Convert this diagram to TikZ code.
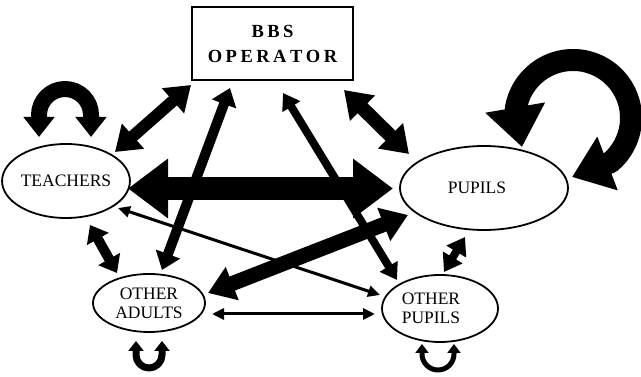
\documentclass[tikz,border=0pt]{standalone}
\usepackage{fontspec}
\setmainfont{Liberation Serif}
\usetikzlibrary{arrows.meta,shapes.geometric}
\tikzset{
  oval/.style={ellipse, draw, line width=1.8pt, inner sep=0pt, align=center,
    font=\fontsize{17.5}{19}\selectfont},
  bbsbox/.style={rectangle, draw, line width=1.8pt, inner sep=0pt, align=center,
    minimum width=161pt, minimum height=73pt, font=\fontsize{18.5}{25}\selectfont\bfseries},
  conn/.style={line join=round},
}
\newcommand{\lsp}{\kern3.5pt}
\begin{document}
\begin{tikzpicture}[x=1pt,y=1pt]
\useasboundingbox (0,0) rectangle (641,377);
% nodes
\node[bbsbox] (bbs) at (272.5,333.5) {B\lsp B\lsp S\\O\lsp P\lsp E\lsp R\lsp A\lsp T\lsp O\lsp R};
\node[oval, minimum width=116pt, minimum height=74pt] (teach) at (66,196) {TEACHERS};
\node[oval, minimum width=168pt, minimum height=84pt] (pupils) at (484,189) {PUPILS\kern14pt};
\node[oval, minimum width=112pt, minimum height=58pt] (adults) at (149,74) {OTHER\\ADULTS};
\node[oval, minimum width=116pt, minimum height=67pt] (opupils) at (440,68.5) {OTHER\kern18pt\\PUPILS\kern18pt};
% connectors
\draw[conn, line width=12pt, {Triangle[width=32pt,length=24pt]}-{Triangle[width=32pt,length=24pt]}]
  ([shift={(49,29)}]teach.center) -- ([shift={(-81.5,-41.5)}]bbs.center);
\draw[conn, line width=14pt, {Triangle[width=34pt,length=26pt]}-{Triangle[width=34pt,length=26pt]}]
  ([shift={(71.5,-46.5)}]bbs.center) -- ([shift={(-75,34)}]pupils.center);
\draw[conn, line width=10pt, {Triangle[width=25pt,length=17pt]}-{Triangle[width=25pt,length=17pt]}]
  ([shift={(13,33)}]adults.center) -- ([shift={(-42.5,-44.5)}]bbs.center);
\draw[conn, line width=8pt, {Triangle[width=20pt,length=16pt]}-{Triangle[width=20pt,length=16pt]}]
  ([shift={(10.5,-49.5)}]bbs.center) -- ([shift={(-43,28.5)}]opupils.center);
\draw[conn, line width=15pt, {Triangle[width=34pt,length=26pt]}-{Triangle[width=34pt,length=26pt]}]
  ([shift={(59,10)}]adults.center) -- ([shift={(-76,-27)}]pupils.center);
\draw[conn, line width=23pt, {Triangle[width=57pt,length=40pt]}-{Triangle[width=57pt,length=40pt]}]
  ([shift={(62,-7.5)}]teach.center) -- ([shift={(-91,-0.5)}]pupils.center);
\draw[conn, line width=3pt, {Triangle[width=11pt,length=12pt]}-{Triangle[width=11pt,length=12pt]}]
  ([shift={(52,-27)}]teach.center) -- ([shift={(-60,13.5)}]opupils.center);
\draw[conn, line width=3pt, {Triangle[width=11pt,length=12pt]}-{Triangle[width=11pt,length=12pt]}]
  ([shift={(63,-11)}]adults.center) -- ([shift={(-65,-5.5)}]opupils.center);
\draw[conn, line width=10pt, {Triangle[width=24pt,length=16pt]}-{Triangle[width=24pt,length=16pt]}]
  ([shift={(24,-44)}]teach.center) -- ([shift={(-32,30)}]adults.center);
\draw[conn, line width=8pt, {Triangle[width=22pt,length=17pt]}-{Triangle[width=22pt,length=17pt]}]
  ([shift={(-19,-49)}]pupils.center) -- ([shift={(4,36.5)}]opupils.center);
% self loops
\draw[conn, line width=16pt, {Triangle[width=30pt,length=20pt]}-{Triangle[width=30pt,length=20pt]}]
  ([shift={(-27,44)}]teach.center) -- ++(0,22) arc[start angle=180,end angle=0,radius=26] -- ++(0,-22);
\draw[conn, line width=22pt, {Triangle[width=58pt,length=40pt]}-{Triangle[width=55pt,length=38pt]}]
  ([shift={(38,41)}]pupils.center) -- ++(-6.4,37.1) arc[start angle=172,end angle=-50,radius=58] -- ++(-38.3,-14.6);
\draw[conn, line width=7pt, {Triangle[width=15pt,length=10pt]}-{Triangle[width=15pt,length=10pt]}]
  ([shift={(-13,-38)}]adults.center) -- ++(0,-14) arc[start angle=180,end angle=360,radius=13] -- ++(0,14);
\draw[conn, line width=5pt, {Triangle[width=13pt,length=9pt]}-{Triangle[width=13pt,length=9pt]}]
  ([shift={(-18,-35.5)}]opupils.center) -- ++(0,-10) arc[start angle=180,end angle=360,radius=16] -- ++(0,10);
\end{tikzpicture}
\end{document}
